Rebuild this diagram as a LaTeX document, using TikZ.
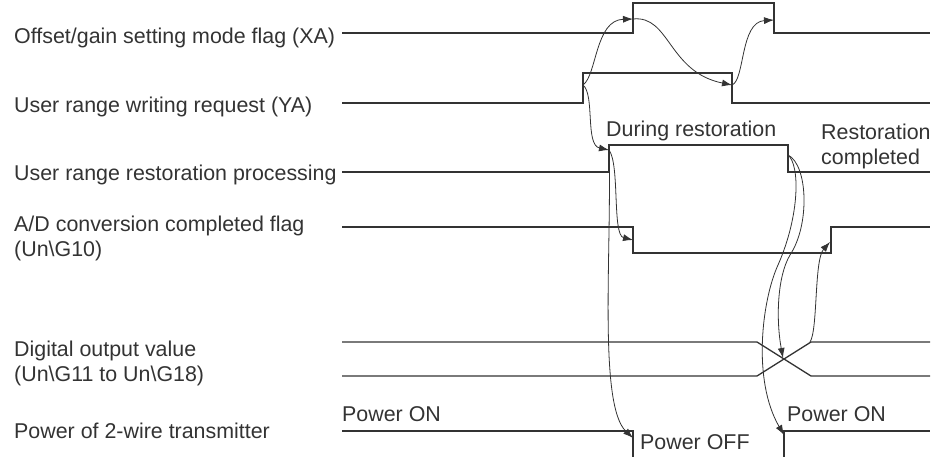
\documentclass[tikz,border=0pt]{standalone}
\usepackage{fontspec}
\setmainfont{Liberation Sans}
\usetikzlibrary{arrows.meta}
\definecolor{sigline}{HTML}{333333}
\begin{document}
\begin{tikzpicture}[x=1pt, y=-1pt,
    sig/.style={line width=1.3pt, draw=sigline},
    cause/.style={line width=0.8pt, draw=sigline, -{Latex[length=10pt,width=7pt]}},
    lbl/.style={anchor=base west, inner sep=0pt, text=sigline, align=left,
        font=\fontsize{21.4}{25.3}\selectfont}]
    \useasboundingbox (0,0) rectangle (935,457);
    % names of the signals (two-line ones sit on their last line)
    \foreach \i/\y/\txt in {1/43.5/{Offset/gain setting mode flag (XA)},
        2/112.7/{User range writing request (YA)},
        3/181/{User range restoration processing},
        4/256.7/{A/D conversion completed flag\\(Un\textbackslash G10)},
        5/381.7/{Digital output value\\(Un\textbackslash G11 to Un\textbackslash G18)},
        6/438.3/{Power of 2-wire transmitter}} {
        \node[lbl] (lab\i) at (14,\y) {\txt};
    }
    % wave forms
    \draw[sig] (342,33) -- (633,33) -- (633,3) -- (774,3) -- (774,33) -- (930,33);         % XA
    \draw[sig] (342,103) -- (583,103) -- (583,73) -- (732,73) -- (732,103) -- (930,103);   % YA
    \draw[sig] (342,172) -- (609,172) -- (609,145) -- (788,145) -- (788,172) -- (930,172); % restoration
    \draw[sig] (342,227) -- (633,227) -- (633,253) -- (831,253) -- (831,227) -- (930,227); % Un\G10
    \draw[sig] (342,342) -- (757,342) -- (811,376) -- (930,376); % Un\G11..
    \draw[sig] (342,376) -- (757,376) -- (811,342) -- (930,342);
    \draw[sig] (342,431) -- (633,431) -- (633,457); % power
    \draw[sig] (784,457) -- (784,431) -- (930,431);
    % state texts
    \node[lbl] (during) at (606,136.7) {During restoration};
    \node[lbl] (done) at (821,165) {Restoration\\completed};
    \node[lbl] (pwOn1) at (342,421) {Power ON};
    \node[lbl] (pwOff) at (640,449) {Power OFF};
    \node[lbl] (pwOn2) at (787,421) {Power ON};
    % edges
    \coordinate (yaOn) at (583,85);
    \coordinate (xaOn) at (633,19);
    \coordinate (yaOff) at (732,85);
    \coordinate (xaOff) at (774,20);
    \coordinate (rsOn) at (609,150);
    \coordinate (adOff) at (633,240);
    \coordinate (pwOff) at (633,438);
    \coordinate (rsOff) at (788,155);
    \coordinate (dvX) at (783,358);
    \coordinate (dvEnd) at (810,342);
    \coordinate (adOn) at (830,242);
    \coordinate (pwOn) at (784,435);
    % what causes what
    \draw[cause] (yaOn) .. controls (597,75) and (595,20) .. (xaOn);
    \draw[cause] (xaOn) .. controls (670,15) and (668,72) .. (yaOff);
    \draw[cause] (yaOff) .. controls (745,80) and (740,22) .. (xaOff);
    \draw[cause] (yaOn) .. controls (595,95) and (585,145) .. (rsOn);
    \draw[cause] (rsOn) .. controls (620,165) and (612,235) .. (adOff);
    \draw[cause] (rsOn) .. controls (612,250) and (598,405) .. (pwOff);
    \draw[cause] (rsOff) .. controls (800,165) and (800,215) .. (778,265)
        .. controls (762,300) and (752,380) .. (pwOn);
    \draw[cause] (rsOff) .. controls (808,165) and (810,225) .. (790,255)
        .. controls (777,277) and (776,320) .. (dvX);
    \draw[cause] (dvEnd) .. controls (818,330) and (814,260) .. (adOn);
\end{tikzpicture}
\end{document}
